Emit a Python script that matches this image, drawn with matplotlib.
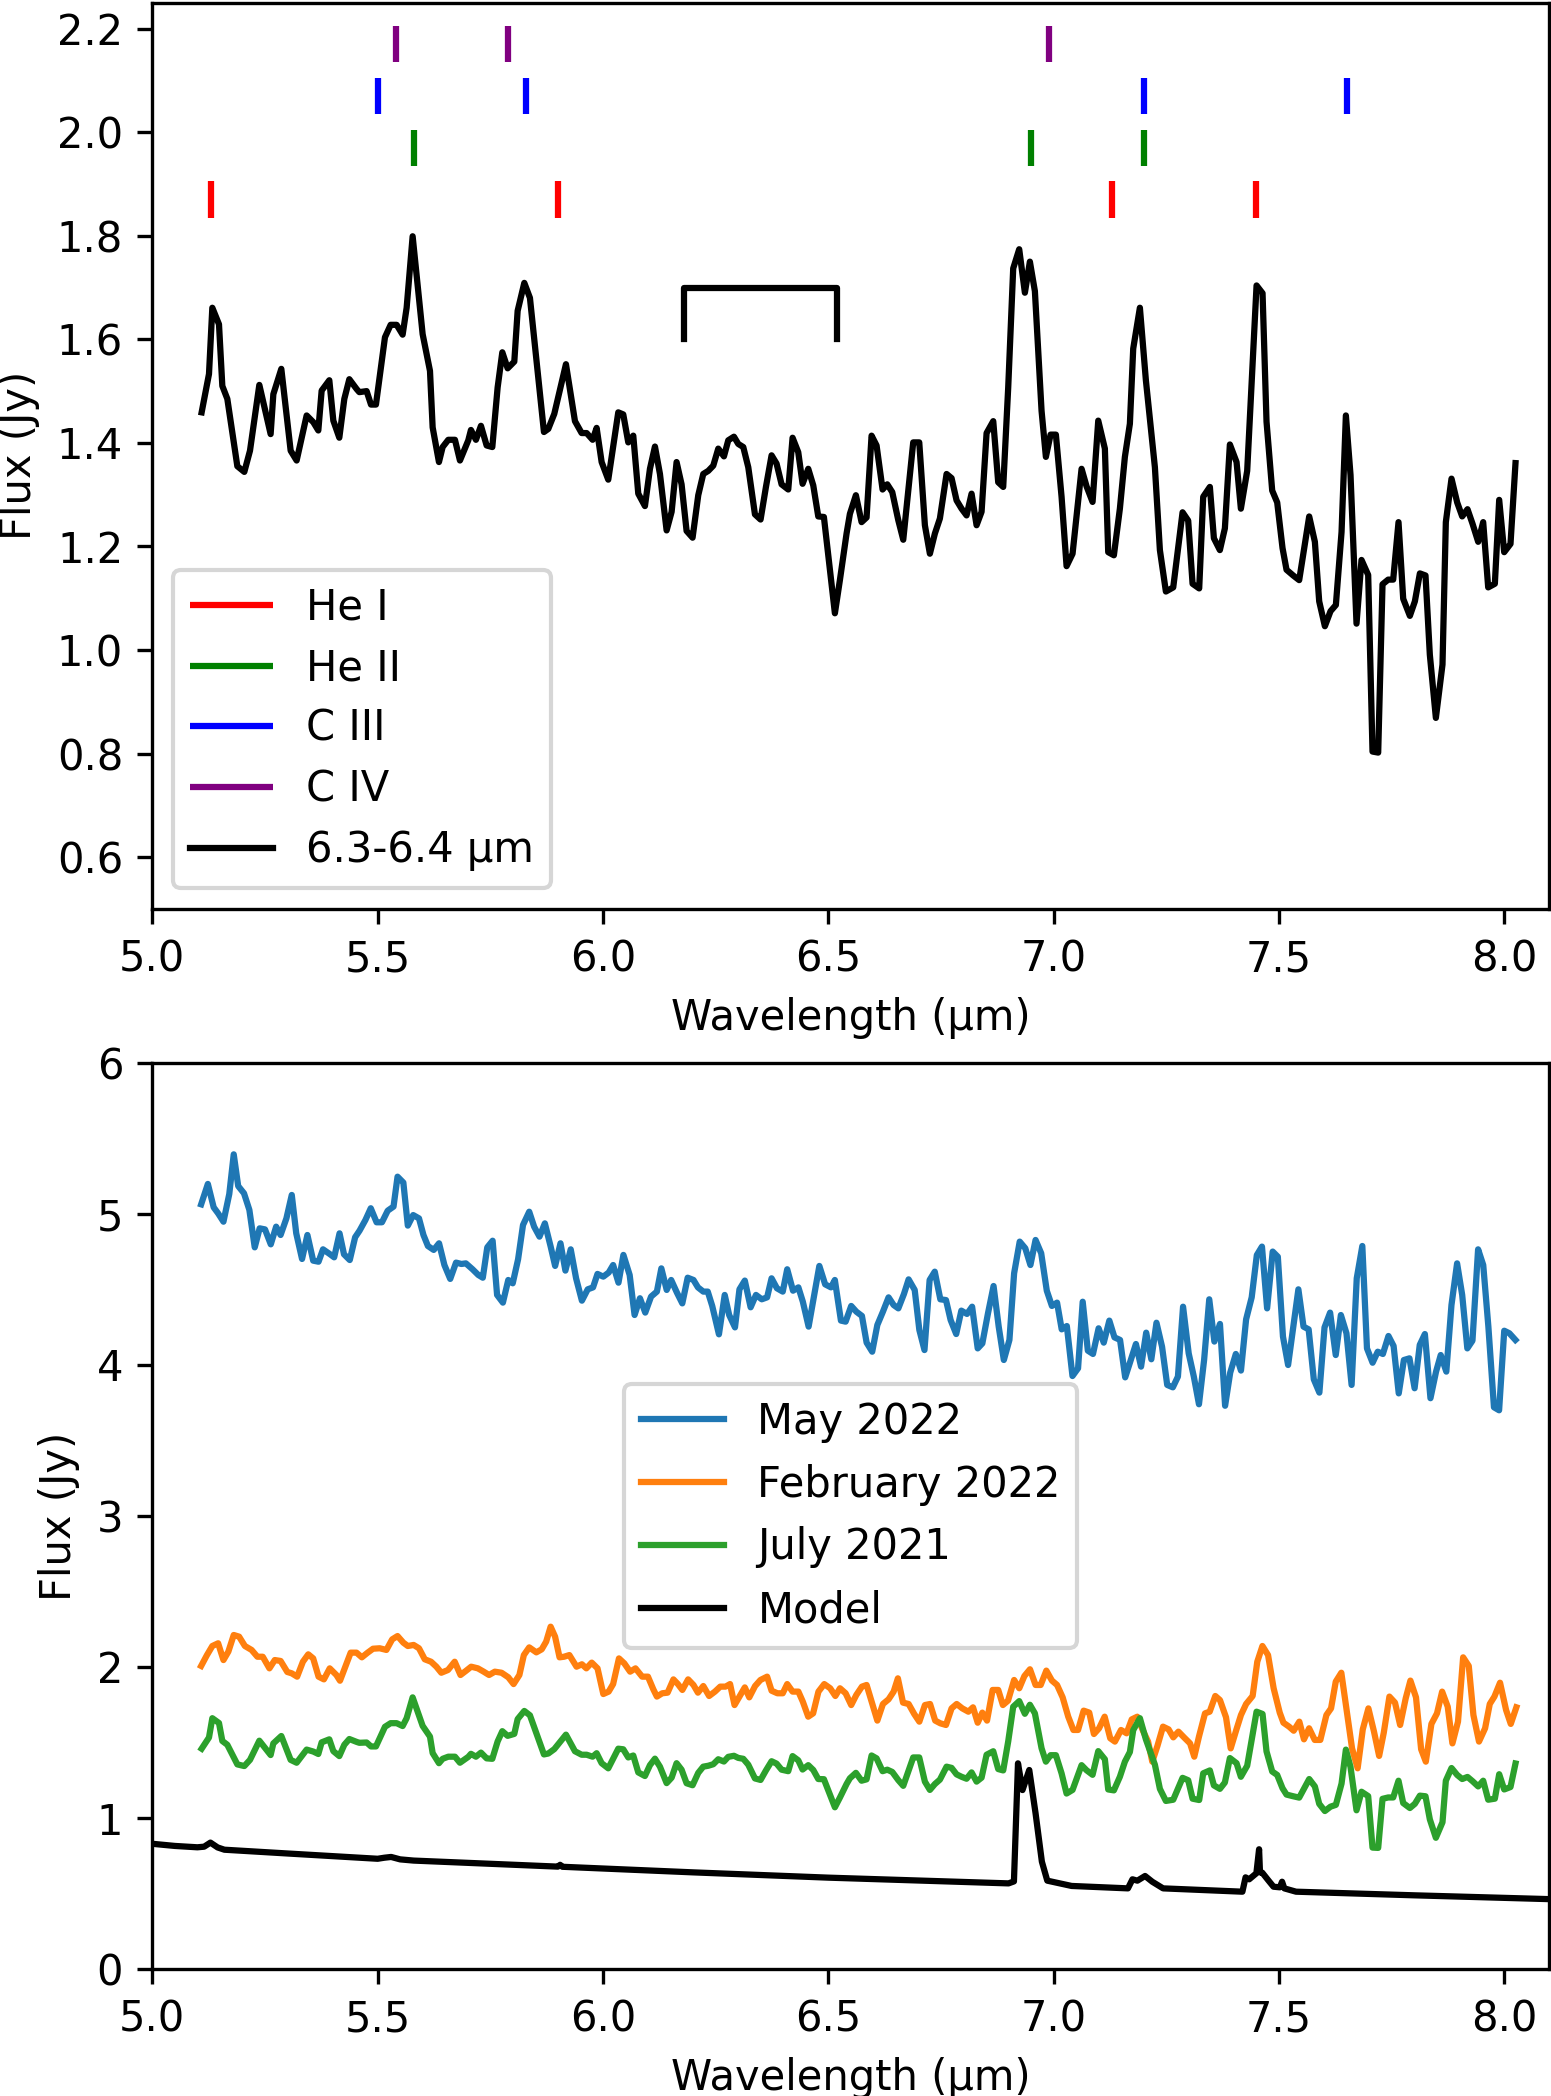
import matplotlib
matplotlib.use("Agg")
import matplotlib.pyplot as plt

# ---------------- data ----------------
# July 2021 spectrum (also shown alone in the top panel)
jul_w = [5.1095, 5.1258, 5.1332, 5.1480, 5.1554, 5.1665, 5.1887, 5.2042, 5.2168, 5.2375,
         5.2626, 5.2686, 5.2863, 5.3070, 5.3203, 5.3425, 5.3573, 5.3684, 5.3758, 5.3928,
         5.4017, 5.4150, 5.4261, 5.4372, 5.4534, 5.4594, 5.4756, 5.4853, 5.4963, 5.5163,
         5.5289, 5.5422, 5.5555, 5.5644, 5.5777, 5.5999, 5.6162, 5.6221, 5.6361, 5.6443,
         5.6568, 5.6716, 5.6827, 5.7012, 5.7071, 5.7182, 5.7293, 5.7419, 5.7545, 5.7663,
         5.7767, 5.7885, 5.8033, 5.8107, 5.8255, 5.8380, 5.8691, 5.8787, 5.8920, 5.9179,
         5.9379, 5.9527, 5.9638, 5.9771, 5.9860, 5.9971,
         6.0118, 6.0340, 6.0451, 6.0562, 6.0673, 6.0784, 6.0932, 6.1043, 6.1154, 6.1265,
         6.1413, 6.1524, 6.1634, 6.1745, 6.1856, 6.1989, 6.2115, 6.2226, 6.2337, 6.2448,
         6.2559, 6.2685, 6.2781, 6.2907, 6.3003, 6.3114, 6.3225, 6.3373, 6.3498, 6.3617,
         6.3742, 6.3853, 6.3964, 6.4112, 6.4208, 6.4334, 6.4430, 6.4556, 6.4667, 6.4778,
         6.4903, 6.5147, 6.5258, 6.5406, 6.5480, 6.5613, 6.5739, 6.5850, 6.5961, 6.6072,
         6.6205, 6.6309, 6.6420, 6.6553, 6.6664, 6.6885, 6.7019, 6.7144, 6.7255, 6.7366,
         6.7477, 6.7625, 6.7736, 6.7847, 6.7958, 6.8069, 6.8180, 6.8291, 6.8402, 6.8513,
         6.8661, 6.8771, 6.8882, 6.8993, 6.9104, 6.9237, 6.9363, 6.9474, 6.9585, 6.9733,
         6.9829, 6.9933, 7.0051, 7.0177, 7.0288, 7.0421, 7.0621, 7.0732, 7.0865,
         7.0991, 7.1138, 7.1212, 7.1338, 7.1471, 7.1582, 7.1693, 7.1767, 7.1915, 7.2048,
         7.2248, 7.2359, 7.2492, 7.2655, 7.2862, 7.2987, 7.3084, 7.3231, 7.3320, 7.3468,
         7.3557, 7.3690, 7.3801, 7.3912, 7.4060, 7.4156, 7.4296, 7.4504, 7.4637, 7.4725,
         7.4851, 7.4962, 7.5080, 7.5169, 7.5317, 7.5450, 7.5672, 7.5798, 7.5894, 7.6020,
         7.6145, 7.6264, 7.6390, 7.6486, 7.6589, 7.6722, 7.6833, 7.6981, 7.7077, 7.7203,
         7.7299, 7.7425, 7.7536, 7.7654, 7.7758, 7.7906, 7.8017, 7.8128, 7.8253, 7.8349,
         7.8483, 7.8630, 7.8704, 7.8830, 7.8956, 7.9067, 7.9185, 7.9296, 7.9422, 7.9533,
         7.9644, 7.9792, 7.9888, 7.9999, 8.0139, 8.0250]
jul_f = [1.459, 1.533, 1.661, 1.629, 1.510, 1.485, 1.355, 1.344, 1.385, 1.512,
         1.417, 1.494, 1.543, 1.385, 1.366, 1.453, 1.440, 1.424, 1.501, 1.521,
         1.443, 1.410, 1.485, 1.523, 1.504, 1.498, 1.500, 1.474, 1.474, 1.604,
         1.628, 1.628, 1.609, 1.661, 1.799, 1.610, 1.539, 1.430, 1.363, 1.392,
         1.406, 1.406, 1.366, 1.405, 1.425, 1.406, 1.433, 1.395, 1.392, 1.507,
         1.575, 1.544, 1.557, 1.655, 1.709, 1.680, 1.421, 1.427, 1.456, 1.552,
         1.442, 1.419, 1.419, 1.406, 1.429, 1.363,
         1.329, 1.459, 1.455, 1.401, 1.414, 1.302, 1.278, 1.350, 1.393, 1.340,
         1.231, 1.267, 1.363, 1.320, 1.230, 1.217, 1.299, 1.340, 1.346, 1.356,
         1.389, 1.374, 1.405, 1.412, 1.398, 1.392, 1.353, 1.262, 1.252, 1.315,
         1.376, 1.360, 1.320, 1.310, 1.410, 1.382, 1.321, 1.350, 1.318, 1.258,
         1.257, 1.071, 1.135, 1.225, 1.263, 1.299, 1.247, 1.256, 1.414, 1.395,
         1.310, 1.320, 1.305, 1.251, 1.213, 1.401, 1.401, 1.241, 1.186, 1.225,
         1.254, 1.340, 1.332, 1.289, 1.273, 1.260, 1.302, 1.241, 1.267, 1.419,
         1.442, 1.324, 1.315, 1.507, 1.737, 1.774, 1.690, 1.750, 1.693, 1.462,
         1.373, 1.416, 1.416, 1.296, 1.162, 1.186, 1.350, 1.316, 1.286,
         1.443, 1.389, 1.189, 1.183, 1.273, 1.373, 1.437, 1.582, 1.661, 1.521,
         1.353, 1.193, 1.113, 1.121, 1.266, 1.250, 1.128, 1.119, 1.296, 1.315,
         1.216, 1.193, 1.235, 1.397, 1.363, 1.273, 1.346, 1.704, 1.689, 1.441,
         1.308, 1.285, 1.197, 1.155, 1.144, 1.135, 1.258, 1.209, 1.094, 1.046,
         1.075, 1.087, 1.228, 1.453, 1.338, 1.051, 1.174, 1.145, 0.804, 0.802,
         1.127, 1.136, 1.136, 1.247, 1.099, 1.066, 1.094, 1.148, 1.144, 0.991,
         0.869, 0.972, 1.247, 1.331, 1.285, 1.258, 1.272, 1.244, 1.209, 1.247,
         1.121, 1.128, 1.290, 1.189, 1.205, 1.361]

# May 2022
may_w = [5.1084, 5.1233, 5.1362, 5.1461, 5.1579, 5.1708, 5.1807, 5.1906, 5.2035, 5.2154,
         5.2273, 5.2382, 5.2501, 5.2629, 5.2748, 5.2847, 5.2976, 5.3095, 5.3194, 5.3323,
         5.3442, 5.3570, 5.3689, 5.3788, 5.3937, 5.4036, 5.4155, 5.4254, 5.4382, 5.4501,
         5.4600, 5.4729, 5.4848, 5.4977, 5.5096, 5.5224, 5.5353, 5.5442, 5.5571, 5.5670,
         5.5789, 5.5918, 5.6017, 5.6116, 5.6245, 5.6363, 5.6482, 5.6611, 5.6740, 5.6859,
         5.6958, 5.7106, 5.7235, 5.7334, 5.7433, 5.7552, 5.7651, 5.7780, 5.7899, 5.7998,
         5.8117, 5.8226, 5.8364, 5.8473, 5.8592, 5.8711, 5.8840, 5.8939, 5.9058, 5.9167,
         5.9285, 5.9404, 5.9533, 5.9662, 5.9780, 5.9879, 6.0008, 6.0127, 6.0226, 6.0345,
         6.0454, 6.0593, 6.0702, 6.0821, 6.0939, 6.1068, 6.1197, 6.1296, 6.1415, 6.1514,
         6.1642, 6.1761, 6.1880, 6.2009, 6.2108, 6.2227, 6.2326, 6.2425, 6.2574, 6.2702,
         6.2801, 6.2930, 6.3029, 6.3148, 6.3277, 6.3396, 6.3524, 6.3643, 6.3742, 6.3861,
         6.3990, 6.4089, 6.4218, 6.4337, 6.4436, 6.4564, 6.4683, 6.4802, 6.4931, 6.5060,
         6.5146, 6.5281, 6.5385, 6.5509, 6.5623, 6.5747, 6.5851, 6.5975, 6.6089, 6.6213,
         6.6338, 6.6451, 6.6555, 6.6679, 6.6783, 6.6918, 6.7021, 6.7135, 6.7249, 6.7363,
         6.7487, 6.7612, 6.7715, 6.7839, 6.7953, 6.8078, 6.8192, 6.8316, 6.8419, 6.8544,
         6.8668, 6.8782, 6.8896, 6.9020, 6.9124, 6.9248, 6.9372, 6.9486, 6.9600, 6.9725,
         6.9849, 6.9963, 7.0077, 7.0180, 7.0294, 7.0419, 7.0543, 7.0646, 7.0760, 7.0874,
         7.0999, 7.1113, 7.1237, 7.1351, 7.1475, 7.1589, 7.1713, 7.1827, 7.1941, 7.2055,
         7.2169, 7.2283, 7.2407, 7.2521, 7.2646, 7.2759, 7.2873, 7.2998, 7.3112, 7.3226,
         7.3340, 7.3454, 7.3568, 7.3692, 7.3806, 7.3919, 7.4044, 7.4158, 7.4272, 7.4396,
         7.4510, 7.4624, 7.4738, 7.4862, 7.4976, 7.5090, 7.5204, 7.5432, 7.5546, 7.5660,
         7.5774, 7.5898, 7.6012, 7.6136, 7.6261, 7.6375, 7.6499, 7.6613, 7.6727, 7.6851,
         7.6954, 7.7079, 7.7193, 7.7307, 7.7431, 7.7545, 7.7659, 7.7773, 7.7897, 7.8011,
         7.8125, 7.8239, 7.8363, 7.8487, 7.8591, 7.8715, 7.8829, 7.8954, 7.9067, 7.9181,
         7.9295, 7.9420, 7.9534, 7.9648, 7.9772, 7.9886, 8.0000, 8.0114, 8.0248]
may_f = [5.064, 5.199, 5.044, 5.004, 4.949, 5.132, 5.395, 5.185, 5.137, 5.027,
         4.779, 4.905, 4.898, 4.799, 4.916, 4.861, 4.971, 5.126, 4.872, 4.702,
         4.861, 4.691, 4.684, 4.766, 4.735, 4.713, 4.872, 4.733, 4.695, 4.846,
         4.890, 4.960, 5.038, 4.945, 4.945, 5.022, 5.049, 5.247, 5.208, 4.923,
         4.993, 4.971, 4.861, 4.788, 4.762, 4.806, 4.662, 4.570, 4.678, 4.669,
         4.673, 4.634, 4.596, 4.578, 4.779, 4.823, 4.464, 4.413, 4.563, 4.541,
         4.700, 4.927, 5.015, 4.916, 4.850, 4.938, 4.784, 4.656, 4.806, 4.625,
         4.766, 4.574, 4.426, 4.501, 4.514, 4.603, 4.585, 4.612, 4.662, 4.545,
         4.729, 4.596, 4.331, 4.442, 4.347, 4.453, 4.486, 4.640, 4.497, 4.563,
         4.479, 4.408, 4.578, 4.563, 4.514, 4.486, 4.486, 4.391, 4.203, 4.464,
         4.331, 4.249, 4.501, 4.559, 4.382, 4.464, 4.435, 4.448, 4.574, 4.508,
         4.486, 4.634, 4.492, 4.514, 4.419, 4.254, 4.457, 4.656, 4.534, 4.514,
         4.563, 4.294, 4.287, 4.391, 4.353, 4.325, 4.148, 4.088, 4.265, 4.353,
         4.448, 4.397, 4.375, 4.470, 4.567, 4.497, 4.232, 4.099, 4.563, 4.618,
         4.435, 4.430, 4.298, 4.205, 4.360, 4.338, 4.386, 4.110, 4.143, 4.342,
         4.523, 4.254, 4.033, 4.166, 4.607, 4.817, 4.773, 4.662, 4.828, 4.740,
         4.492, 4.391, 4.413, 4.236, 4.258, 3.927, 3.978, 4.419, 4.095, 4.073,
         4.243, 4.148, 4.294, 4.183, 4.166, 3.918, 4.033, 4.139, 3.989, 4.214,
         4.038, 4.280, 4.121, 3.868, 3.852, 3.923, 4.386, 4.077, 3.923, 3.740,
         4.033, 4.435, 4.155, 4.272, 3.730, 3.949, 4.073, 3.963, 4.302, 4.448,
         4.728, 4.784, 4.375, 4.751, 4.717, 4.188, 4.000, 4.501, 4.254, 4.236,
         3.905, 3.817, 4.249, 4.347, 4.066, 4.331, 4.210, 3.868, 4.574, 4.788,
         4.110, 4.015, 4.088, 4.073, 4.192, 4.126, 3.812, 4.033, 4.044, 3.846,
         4.133, 4.205, 3.780, 3.956, 4.066, 3.956, 4.397, 4.673, 4.464, 4.110,
         4.161, 4.766, 4.662, 4.254, 3.720, 3.700, 4.227, 4.210, 4.166]

# February 2022
feb_w = [5.1084, 5.1213, 5.1332, 5.1461, 5.1579, 5.1688, 5.1807, 5.1926, 5.2055, 5.2203,
         5.2332, 5.2451, 5.2599, 5.2718, 5.2847, 5.2996, 5.3095, 5.3214, 5.3342, 5.3461,
         5.3570, 5.3689, 5.3808, 5.3937, 5.4085, 5.4165, 5.4283, 5.4402, 5.4531, 5.4650,
         5.4779, 5.4898, 5.5046, 5.5195, 5.5323, 5.5442, 5.5571, 5.5670, 5.5799, 5.5918,
         5.6046, 5.6185, 5.6304, 5.6413, 5.6561, 5.6710, 5.6839, 5.6958, 5.7076, 5.7225,
         5.7354, 5.7473, 5.7601, 5.7750, 5.7899, 5.8017, 5.8146, 5.8245, 5.8364, 5.8522,
         5.8641, 5.8740, 5.8839, 5.8938, 5.9037, 5.9137, 5.9255, 5.9414, 5.9533, 5.9632,
         5.9751, 5.9880, 6.0008, 6.0127, 6.0226, 6.0355, 6.0474, 6.0603, 6.0722, 6.0870,
         6.0999, 6.1118, 6.1197, 6.1316, 6.1435, 6.1564, 6.1663, 6.1762, 6.1890, 6.2009,
         6.2108, 6.2227, 6.2356, 6.2485, 6.2603, 6.2722, 6.2821, 6.2920, 6.3049, 6.3148,
         6.3247, 6.3376, 6.3495, 6.3643, 6.3742, 6.3871, 6.3990, 6.4089, 6.4208, 6.4337,
         6.4436, 6.4555, 6.4664, 6.4782, 6.4911,
         6.5043, 6.5157, 6.5260, 6.5385, 6.5509, 6.5623, 6.5747, 6.5851, 6.5975, 6.6089,
         6.6213, 6.6338, 6.6451, 6.6545, 6.6659, 6.6783, 6.6907, 6.7021, 6.7145, 6.7259,
         6.7373, 6.7487, 6.7612, 6.7736, 6.7850, 6.7974, 6.8109, 6.8212, 6.8316, 6.8419,
         6.8523, 6.8647, 6.8772, 6.8875, 6.8989, 6.9124, 6.9238, 6.9352, 6.9476, 6.9600,
         6.9714, 6.9839, 6.9963, 7.0077, 7.0201, 7.0325, 7.0439, 7.0543, 7.0667, 7.0791,
         7.0895, 7.1009, 7.1133, 7.1257, 7.1361, 7.1496, 7.1620, 7.1734, 7.1858, 7.1983,
         7.2097, 7.2190, 7.2304, 7.2428, 7.2552, 7.2656, 7.2770, 7.2894, 7.3029, 7.3122,
         7.3226, 7.3360, 7.3464, 7.3588, 7.3692, 7.3826, 7.3930, 7.4054, 7.4158, 7.4272,
         7.4417, 7.4520, 7.4634, 7.4759, 7.4883, 7.5018, 7.5100, 7.5225, 7.5328, 7.5453,
         7.5556, 7.5670, 7.5795, 7.5919, 7.6054, 7.6157, 7.6261, 7.6385, 7.6520, 7.6623,
         7.6747, 7.6861, 7.6986, 7.7110, 7.7224, 7.7327, 7.7452, 7.7576, 7.7690, 7.7814,
         7.7918, 7.8042, 7.8156, 7.8260, 7.8384, 7.8508, 7.8622, 7.8746, 7.8850, 7.8974,
         7.9088, 7.9213, 7.9316, 7.9440, 7.9575, 7.9679, 7.9782, 7.9907, 8.0041, 8.0145,
         8.0269]
feb_f = [2.007, 2.079, 2.139, 2.157, 2.046, 2.102, 2.212, 2.201, 2.139, 2.113,
         2.068, 2.068, 1.991, 2.046, 2.040, 1.967, 1.958, 1.936, 2.035, 2.084,
         2.057, 1.936, 1.918, 1.991, 1.947, 1.909, 2.002, 2.095, 2.095, 2.064,
         2.095, 2.121, 2.124, 2.113, 2.183, 2.205, 2.161, 2.139, 2.146, 2.124,
         2.051, 2.035, 2.002, 1.962, 1.980, 2.035, 1.947, 1.974, 2.002, 1.991,
         1.969, 1.947, 1.969, 1.962, 1.932, 1.887, 1.947, 2.079, 2.130, 2.097,
         2.117, 2.168, 2.267, 2.201, 2.064, 2.068, 2.079, 2.002, 2.018, 1.991,
         2.029, 1.991, 1.821, 1.837, 1.887, 2.057, 2.024, 1.969, 1.991, 1.936,
         1.936, 1.852, 1.804, 1.826, 1.830, 1.918, 1.887, 1.848, 1.918, 1.881,
         1.830, 1.874, 1.808, 1.837, 1.870, 1.870, 1.887, 1.748, 1.815, 1.865,
         1.799, 1.874, 1.914, 1.936, 1.843, 1.826, 1.826, 1.887, 1.837, 1.837,
         1.770, 1.671, 1.693, 1.837, 1.887,
         1.859, 1.808, 1.859, 1.826, 1.748, 1.815, 1.870, 1.881, 1.759, 1.645,
         1.755, 1.786, 1.837, 1.925, 1.764, 1.755, 1.689, 1.638, 1.748, 1.755,
         1.645, 1.627, 1.616, 1.726, 1.755, 1.726, 1.704, 1.733, 1.631, 1.698,
         1.645, 1.848, 1.848, 1.748, 1.777, 1.914, 1.859, 1.940, 1.985, 1.881,
         1.881, 1.976, 1.910, 1.881, 1.799, 1.671, 1.583, 1.583, 1.711, 1.698,
         1.556, 1.594, 1.671, 1.528, 1.506, 1.583, 1.561, 1.653, 1.671, 1.578,
         1.506, 1.373, 1.477, 1.605, 1.587, 1.534, 1.572, 1.534, 1.494, 1.406,
         1.539, 1.693, 1.704, 1.808, 1.781, 1.667, 1.461, 1.583, 1.682, 1.755,
         1.808, 2.035, 2.139, 2.079, 1.859, 1.698, 1.631, 1.605, 1.578, 1.638,
         1.521, 1.594, 1.517, 1.517, 1.682, 1.726, 1.903, 1.962, 1.676, 1.461,
         1.329, 1.587, 1.726, 1.572, 1.411, 1.565, 1.804, 1.764, 1.616, 1.793,
         1.910, 1.799, 1.455, 1.373, 1.623, 1.693, 1.837, 1.737, 1.494, 1.638,
         2.064, 2.007, 1.682, 1.506, 1.594, 1.755, 1.804, 1.896, 1.715, 1.623,
         1.733]

# Model spectrum
model_w = [4.98, 5.05, 5.10, 5.115, 5.129, 5.145, 5.16, 5.30, 5.50, 5.515,
           5.53, 5.55, 5.58, 5.90, 5.905, 5.91, 6.20, 6.50, 6.90, 6.912,
           6.921, 6.931, 6.946, 6.960, 6.974, 6.986, 7.04, 7.165, 7.175, 7.186,
           7.203, 7.219, 7.243, 7.419, 7.426, 7.434, 7.450, 7.456, 7.458, 7.463,
           7.476, 7.488, 7.502, 7.507, 7.512, 7.538, 7.80, 8.12]
model_f = [0.835, 0.815, 0.806, 0.810, 0.837, 0.805, 0.790, 0.765, 0.730, 0.737,
           0.742, 0.726, 0.718, 0.678, 0.690, 0.677, 0.640, 0.605, 0.567, 0.580,
           1.362, 1.185, 1.318, 1.031, 0.711, 0.585, 0.550, 0.534, 0.594, 0.585,
           0.616, 0.578, 0.534, 0.512, 0.607, 0.594, 0.634, 0.793, 0.640, 0.638,
           0.589, 0.545, 0.541, 0.578, 0.534, 0.512, 0.488, 0.461]

# Line identifications (wavelengths in micron)
line_labels = ["He I", "He II", "C III", "C IV"]
line_colors = ["red", "green", "blue", "purple"]
line_waves = [[5.13, 5.90, 7.13, 7.45],
              [5.58, 6.95, 7.20],
              [5.50, 5.83, 7.20, 7.65],
              [5.54, 5.79, 6.99]]
line_ymin = [1.835, 1.935, 2.035, 2.135]
line_height = 0.07

# Bracket marking the 6.3-6.4 micron feature
bracket_w = [6.18, 6.18, 6.52, 6.52]
bracket_f = [1.60, 1.70, 1.70, 1.60]
bracket_label = "6.3-6.4 µm"

series_labels = ["May 2022", "February 2022", "July 2021", "Model"]

# ---------------- figure ----------------
plt.rcParams["font.family"] = ["DejaVu Sans"]
plt.rcParams["font.size"] = 10

fig = plt.figure(figsize=(1552 / 300, 2096 / 300), dpi=300)
ax1 = fig.add_axes([0.09813, 0.56632, 0.90013, 0.43239])
ax2 = fig.add_axes([0.09813, 0.06059, 0.90013, 0.43226])

# Top panel
ax1.plot(jul_w, jul_f, color="black", lw=1.5)
for lab, col, waves, y0 in zip(line_labels, line_colors, line_waves, line_ymin):
    ax1.vlines(waves, y0, y0 + line_height, color=col, lw=1.5, label=lab)
ax1.plot(bracket_w, bracket_f, color="black", lw=1.5, label=bracket_label)
ax1.set_xlim(5.0, 8.1)
ax1.set_ylim(0.5, 2.25)
ax1.set_xlabel("Wavelength (µm)")
ax1.set_ylabel("Flux (Jy)")
ax1.legend(loc="lower left", labelspacing=0.45)

# Bottom panel
ax2.plot(may_w, may_f, color="tab:blue", lw=1.5, label=series_labels[0])
ax2.plot(feb_w, feb_f, color="tab:orange", lw=1.5, label=series_labels[1])
ax2.plot(jul_w, jul_f, color="tab:green", lw=1.5, label=series_labels[2])
ax2.plot(model_w, model_f, color="black", lw=1.5, label=series_labels[3])
ax2.set_xlim(5.0, 8.1)
ax2.set_ylim(0, 6)
ax2.set_xlabel("Wavelength (µm)")
ax2.set_ylabel("Flux (Jy)")
ax2.legend(loc="center")

fig.savefig("out.png", dpi=300)
